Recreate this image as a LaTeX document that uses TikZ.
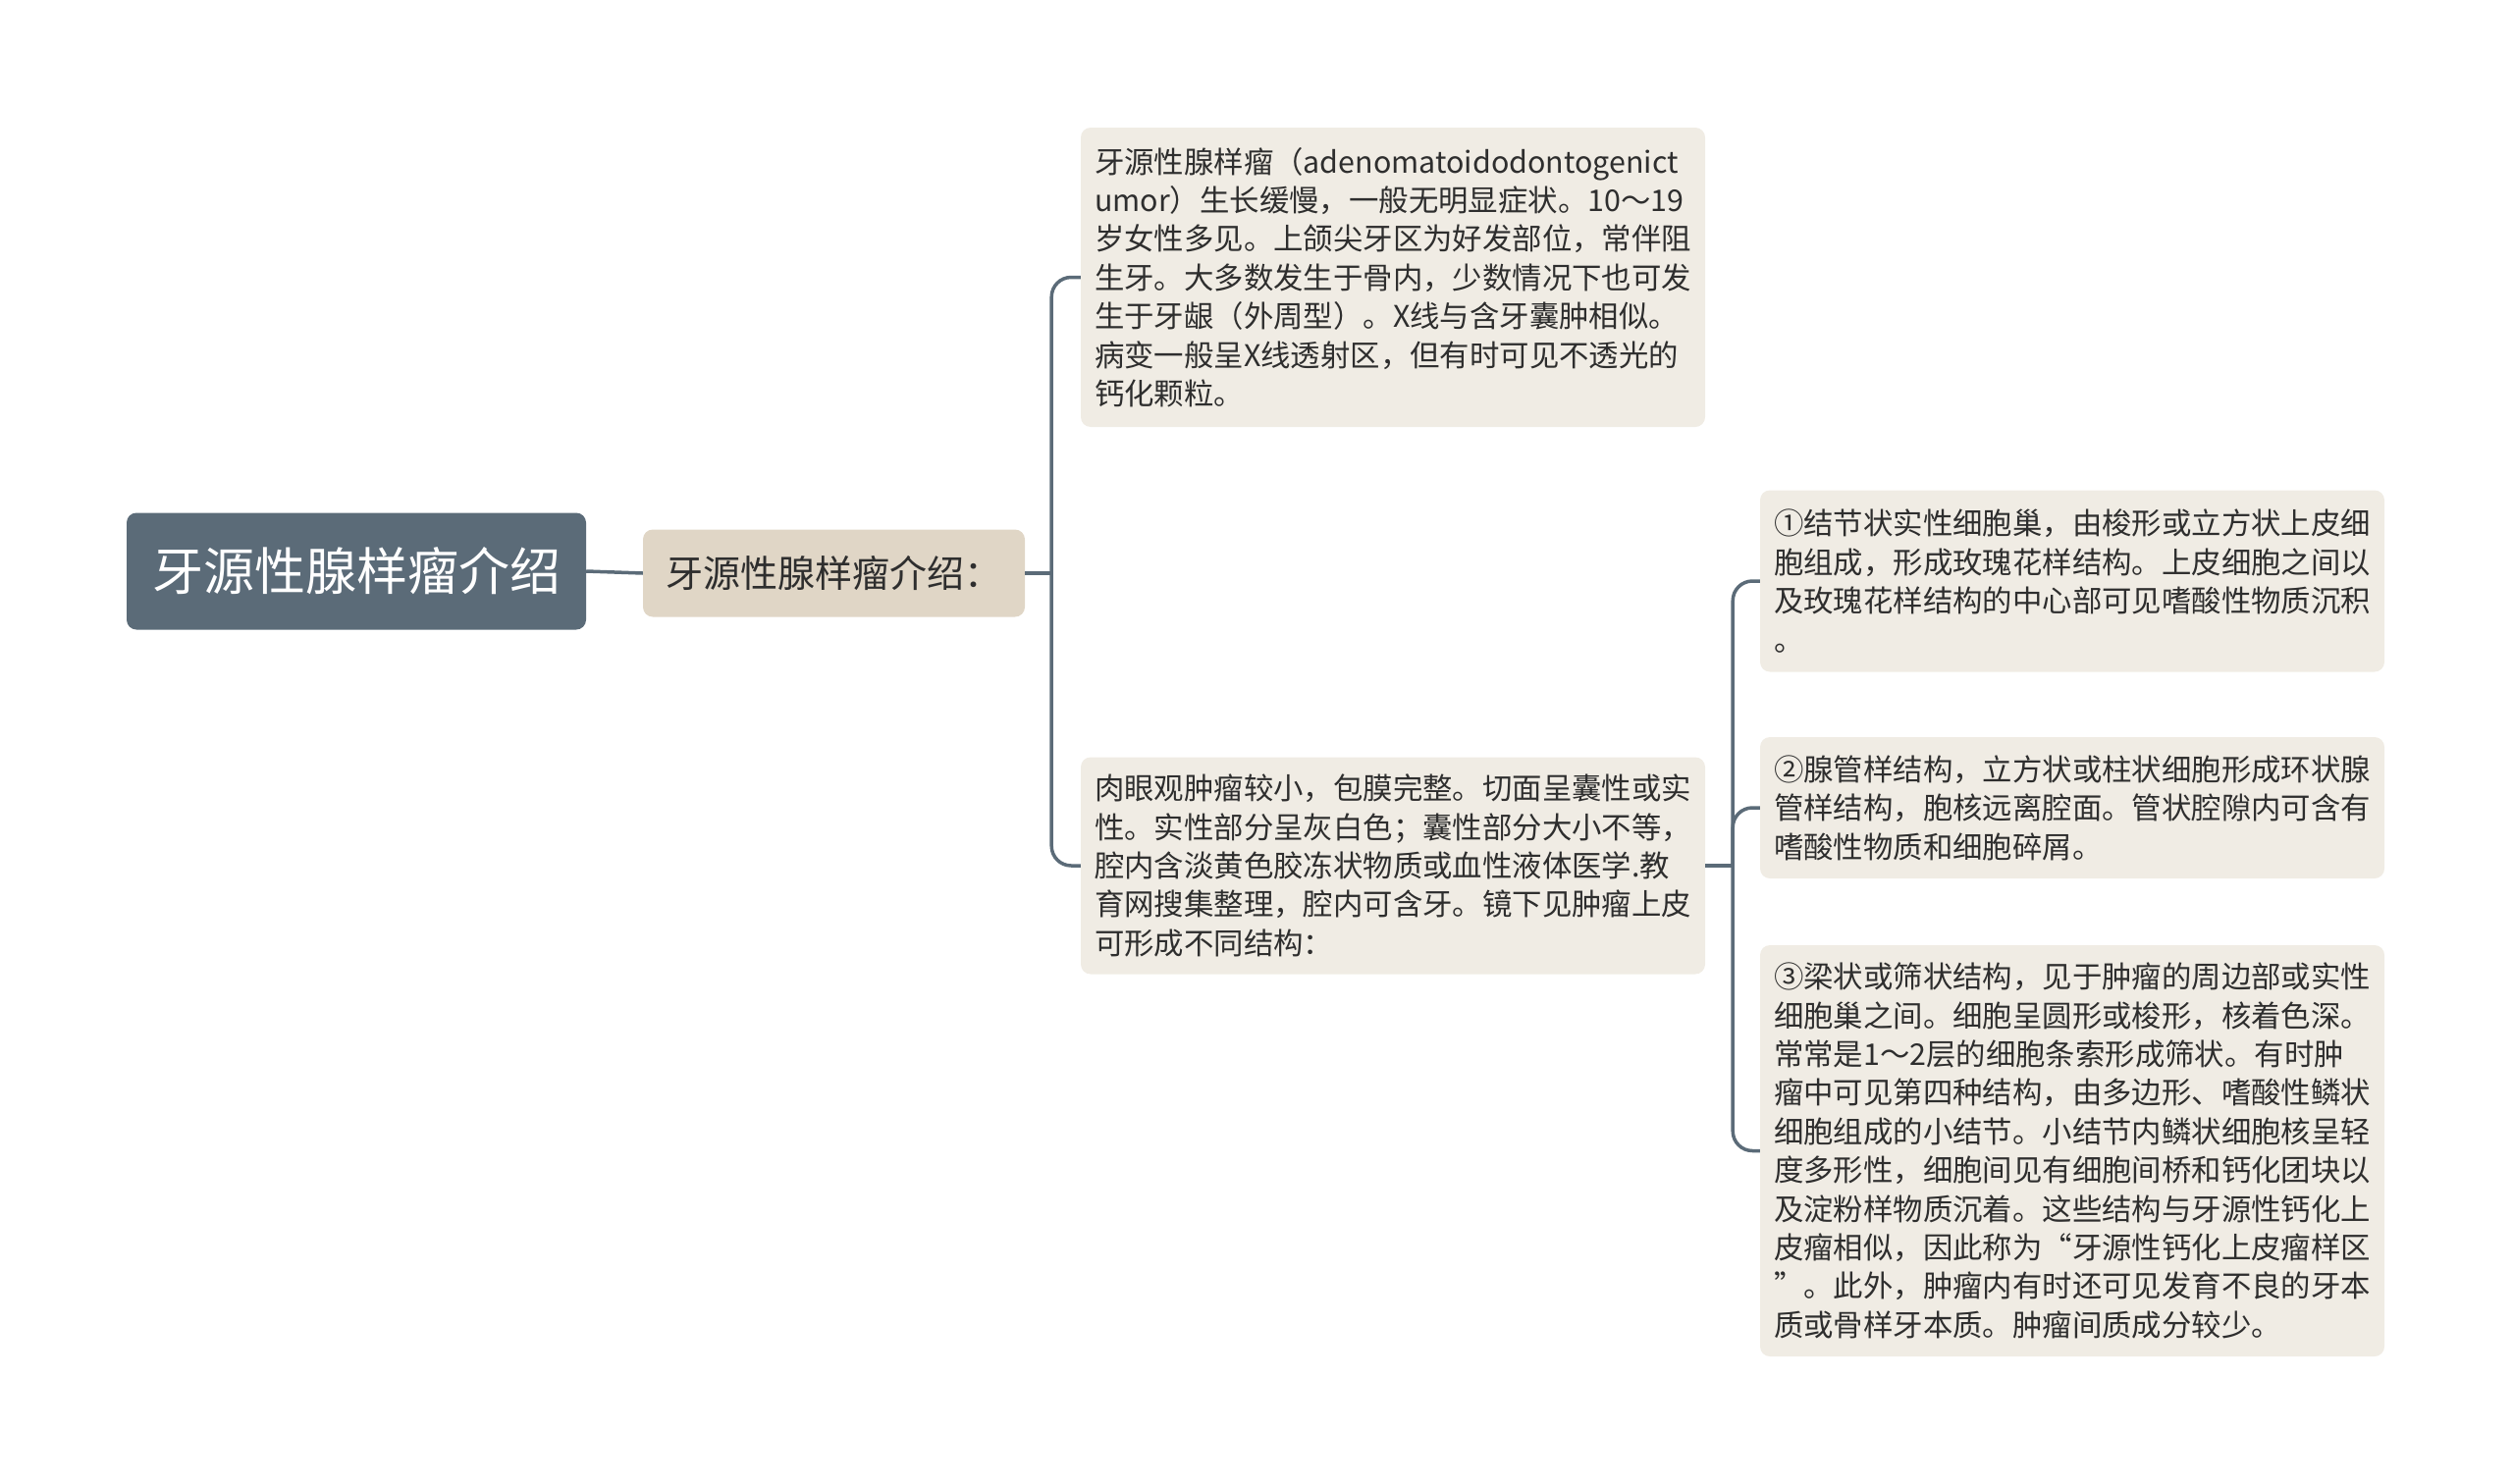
\documentclass[tikz,border=0pt]{standalone}
\usepackage{fontspec}
\setmainfont{Noto Sans CJK SC}
\definecolor{slate}{HTML}{5B6B78}
\definecolor{beige}{HTML}{E0D6C6}
\definecolor{leaf}{HTML}{F0ECE4}
\definecolor{ink}{HTML}{2E2E2E}
\begin{document}
\begin{tikzpicture}[x=1pt,y=-1pt,
  rootbox/.style={fill=slate, text=white, rounded corners=10pt, inner sep=0pt,
    minimum width=468pt, minimum height=119pt, font=\fontsize{52}{60}\selectfont},
  subbox/.style={fill=beige, text=ink, rounded corners=10pt, inner sep=0pt,
    minimum width=389pt, minimum height=89pt, font=\fontsize{38}{44}\selectfont},
  leafbox/.style={fill=leaf, text=ink, rounded corners=10pt, inner xsep=2pt, inner ysep=0pt,
    minimum width=636pt, align=left, font=\fontsize{30.4}{39.4}\selectfont},
  conn/.style={draw=slate, line width=3.5pt},
  elbow/.style={conn, rounded corners=20pt}]
\useasboundingbox (0,0) rectangle (2560,1512);

\node[rootbox] (root) at (363,582) {牙源性腺样瘤介绍};
\node[subbox] (l1) at (849.5,584) {牙源性腺样瘤介绍：};

\node[leafbox, minimum height=305pt] (A) at (1419,282.5) {牙源性腺样瘤（adenomatoidodontogenict\\
umor）生长缓慢，一般无明显症状。10～19\\
岁女性多见。上颌尖牙区为好发部位，常伴阻\\
生牙。大多数发生于骨内，少数情况下也可发\\
生于牙龈（外周型）。X线与含牙囊肿相似。\\
病变一般呈X线透射区，但有时可见不透光的\\
钙化颗粒。};

\node[leafbox, minimum height=221pt] (B) at (1419,882) {肉眼观肿瘤较小，包膜完整。切面呈囊性或实\\
性。实性部分呈灰白色；囊性部分大小不等，\\
腔内含淡黄色胶冻状物质或血性液体医学.教\\
育网搜集整理，腔内可含牙。镜下见肿瘤上皮\\
可形成不同结构：};

\node[leafbox, minimum height=185pt] (C1) at (2111,592) {①结节状实性细胞巢，由梭形或立方状上皮细\\
胞组成，形成玫瑰花样结构。上皮细胞之间以\\
及玫瑰花样结构的中心部可见嗜酸性物质沉积\\
。};

\node[leafbox, minimum height=144pt] (C2) at (2111,823) {②腺管样结构，立方状或柱状细胞形成环状腺\\
管样结构，胞核远离腔面。管状腔隙内可含有\\
嗜酸性物质和细胞碎屑。};

\node[leafbox, minimum height=419pt] (C3) at (2111,1172.5) {③梁状或筛状结构，见于肿瘤的周边部或实性\\
细胞巢之间。细胞呈圆形或梭形，核着色深。\\
常常是1～2层的细胞条索形成筛状。有时肿\\
瘤中可见第四种结构，由多边形、嗜酸性鳞状\\
细胞组成的小结节。小结节内鳞状细胞核呈轻\\
度多形性，细胞间见有细胞间桥和钙化团块以\\
及淀粉样物质沉着。这些结构与牙源性钙化上\\
皮瘤相似，因此称为“牙源性钙化上皮瘤样区\\
”。此外，肿瘤内有时还可见发育不良的牙本\\
质或骨样牙本质。肿瘤间质成分较少。};

\path (l1.east) ++(27,0) coordinate (j1);
\path (B.east) ++(28,0) coordinate (j2);

\draw[conn] (root.east) -- (l1.west);
\draw[conn] (l1.east) -- (j1);
\draw[elbow] (j1) |- (A.west);
\draw[elbow] (j1) |- (B.west);
\draw[conn] (B.east) -- (j2);
\draw[elbow] (j2) |- (C1.west);
\draw[elbow] (j2) |- (C2.west);
\draw[elbow] (j2) |- (C3.west);
\end{tikzpicture}
\end{document}
